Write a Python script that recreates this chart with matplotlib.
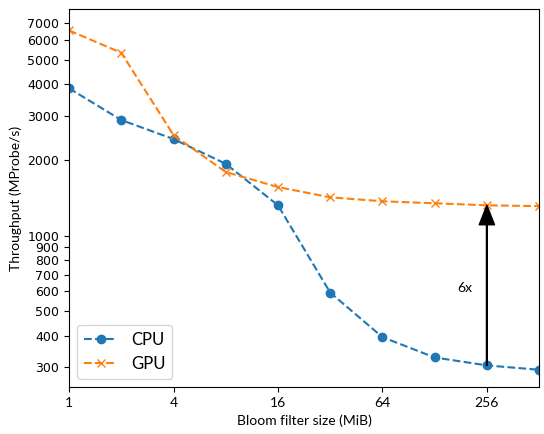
import matplotlib.pyplot as plt
from matplotlib.ticker import FixedLocator, FixedFormatter, NullLocator

sizes = [1, 2, 4, 8, 16, 32, 64, 128, 256, 512]
cpu = [3850, 2880, 2420, 1930, 1320, 594, 395, 328, 305, 293]
gpu = [6540, 5330, 2510, 1790, 1560, 1420, 1370, 1345, 1320, 1310]
x_ticks = [1, 4, 16, 64, 256]
y_ticks = [300, 400, 500, 600, 700, 800, 900, 1000, 2000, 3000, 4000, 5000, 6000, 7000]

label_font = 'Lato'

fig = plt.figure(figsize=(5.44, 4.34), dpi=100)
ax = fig.add_axes([0.127, 0.108, 0.864, 0.871])

ax.plot(sizes, cpu, '--o', color='tab:blue', markersize=6, label='CPU')
ax.plot(sizes, gpu, '--x', color='tab:orange', markersize=6, label='GPU')

ax.set_xscale('log', base=2)
ax.set_yscale('log')
ax.set_xlim(1, 512)
ax.set_ylim(250, 7950)

ax.xaxis.set_major_locator(FixedLocator(x_ticks))
ax.xaxis.set_major_formatter(FixedFormatter([str(v) for v in x_ticks]))
ax.xaxis.set_minor_locator(NullLocator())
ax.yaxis.set_major_locator(FixedLocator(y_ticks))
ax.yaxis.set_major_formatter(FixedFormatter([str(v) for v in y_ticks]))
ax.yaxis.set_minor_locator(NullLocator())

for lbl in ax.get_xticklabels():
    lbl.set_fontfamily(label_font)
    lbl.set_fontsize(10)
for lbl in ax.get_yticklabels():
    lbl.set_fontfamily('DejaVu Sans')
    lbl.set_fontsize(9)

# speed-up arrow at 256 MiB
ax.annotate('', xy=(256, gpu[8]), xytext=(256, cpu[8]),
            arrowprops=dict(facecolor='black', edgecolor='black', width=0.6, headwidth=11, headlength=14))
ax.text(191, 622, '6x', fontsize=10, family=label_font, ha='center', va='center')

ax.set_xlabel('Bloom filter size (MiB)', fontsize=10, family=label_font)
ax.set_ylabel('Throughput (MProbe/s)', fontsize=10, family=label_font)
ax.legend(loc='lower left', prop={'family': label_font, 'size': 12})

fig.savefig('out.png')
